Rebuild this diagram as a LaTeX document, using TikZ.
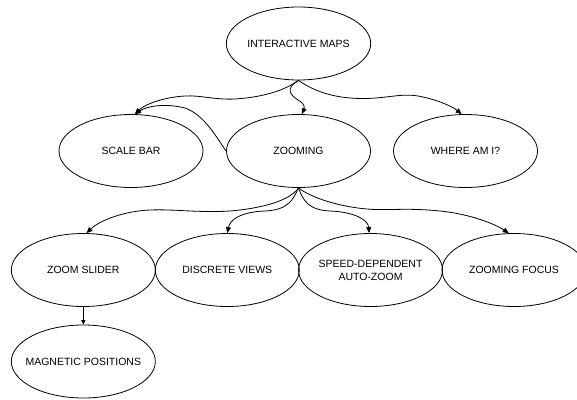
\documentclass[tikz,border=0pt]{standalone}
\usepackage{fontspec}
\setmainfont{Liberation Sans}
\usetikzlibrary{shapes.geometric,arrows.meta}
\begin{document}
\begin{tikzpicture}[x=1pt,y=-1pt,
  topic/.style={ellipse,draw,line width=0.8pt,minimum width=144pt,minimum height=73pt,inner sep=0pt,
    font=\fontsize{10.5}{13}\selectfont,align=center},
  link/.style={line width=0.8pt,-{Triangle[length=6pt,width=5pt]}},
  shortlink/.style={line width=0.8pt,-{Triangle[length=4.5pt,width=4pt]}}]
\useasboundingbox (0,0) rectangle (577,399);
\clip (0,0) rectangle (577,399);
\node[topic] (im) at (298.5,43.5) {INTERACTIVE MAPS};
\node[topic] (sb) at (131,151) {SCALE BAR};
\node[topic] (zm) at (298.5,151) {ZOOMING};
\node[topic] (wa) at (465.5,151) {WHERE AM I?};
\node[topic] (zs) at (83.3,270) {ZOOM SLIDER};
\node[topic] (dv) at (227.3,270) {\makebox[60pt][c]{DISCRETE VIEWS}};
\node[topic] (sd) at (370.5,270) {\makebox[60pt][c]{SPEED-DEPENDENT}\\AUTO-ZOOM};
\node[topic] (zf) at (514,270) {\makebox[60pt][c]{ZOOMING FOCUS}};
\node[topic] (mp) at (83.3,361.5) {\makebox[60pt][c]{MAGNETIC POSITIONS}};
% from interactive maps
\draw[link] (im.south) .. controls (285,90) and (265,97) .. (235,99)
  .. controls (215,100) and (200,95) .. (185,96)
  .. controls (165,97) and (145,104) .. (sb.84);
\draw[link] (im.south) .. controls (285,88) and (290,95) .. (298,100)
  .. controls (306,104) and (304,109) .. (zm.85);
\draw[link] (im.south) .. controls (315,92) and (335,98) .. (360,98.5)
  .. controls (385,99) and (400,93) .. (418,96)
  .. controls (435,99) and (452,106) .. (wa.96);
% zooming to scale bar
\draw[link] (zm.west) .. controls (218,140) and (205,115) .. (185,108)
  .. controls (165,103) and (147,106) .. (sb.84);
% from zooming
\draw[link] (zm.south) .. controls (290,200) and (265,208) .. (230,211)
  .. controls (200,213) and (175,209) .. (150,210)
  .. controls (125,211) and (100,220) .. (zs.85);
\draw[link] (zm.south) .. controls (293,200) and (288,210) .. (265,211)
  .. controls (240,212) and (230,220) .. (dv.north);
\draw[link] (zm.south) .. controls (303,200) and (308,210) .. (330,211)
  .. controls (355,212) and (368,220) .. (sd.92);
\draw[link] (zm.south) .. controls (310,197) and (340,208) .. (375,209.5)
  .. controls (395,210) and (410,208) .. (440,211)
  .. controls (470,214) and (495,224) .. (zf.98);
% zoom slider to magnetic positions
\draw[shortlink] (zs.south) -- (mp.north);
\end{tikzpicture}
\end{document}
